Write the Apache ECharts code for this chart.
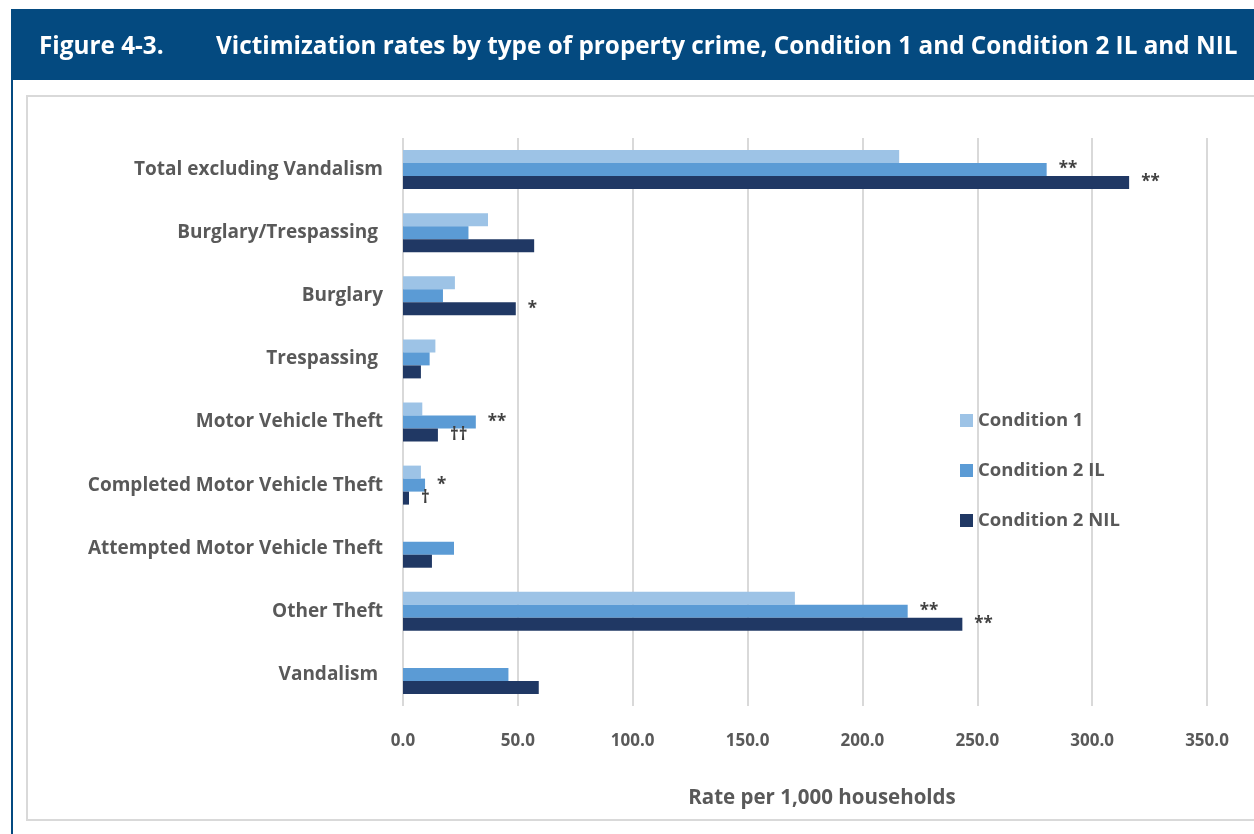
<!DOCTYPE html>
<html>
<head>
<meta charset="utf-8">
<script src="https://cdn.jsdelivr.net/npm/echarts@6/dist/echarts.min.js"></script>
<style>
  html, body { margin: 0; padding: 0; background: #fff; }
  #chart { width: 1254px; height: 834px; }
</style>
</head>
<body>
<div id="chart"></div>
<script>
  // categories, top to bottom
  var categories = [
    'Total excluding Vandalism',
    'Burglary/Trespassing ',
    'Burglary',
    'Trespassing ',
    'Motor Vehicle Theft',
    'Completed Motor Vehicle Theft',
    'Attempted Motor Vehicle Theft',
    'Other Theft',
    'Vandalism '
  ];
  var seriesNames = ['Condition 1', 'Condition 2 IL', 'Condition 2 NIL'];
  var cond1 = [216.0, 37.0, 22.6, 14.1, 8.4, 7.8, null, 170.6, null];
  var cond2IL = [280.2, 28.5, 17.4, 11.6, 31.7, 9.6, 22.2, 219.7, 45.9];
  var cond2NIL = [316.1, 57.1, 49.1, 7.8, 15.2, 2.6, 12.6, 243.5, 59.1];
  // significance marks beside bars
  var cond1Marks = ['', '', '', '', '', '', '', '', ''];
  var cond2ILMarks = ['**', '', '', '', '**', '*', '', '**', ''];
  var cond2NILMarks = ['**', '', '*', '', '††', '†', '', '**', ''];
  var xTicks = [0, 50, 100, 150, 200, 250, 300, 350];

  var colors = ['#9DC3E6', '#5B9BD5', '#203864'];
  var font = '"Open Sans", sans-serif';

  function makeSeries(i, data, marks) {
    return {
      name: seriesNames[i],
      type: 'bar',
      data: data,
      barWidth: 13,
      barGap: '0%',
      itemStyle: { color: colors[i] },
      label: {
        show: true,
        position: 'right',
        distance: 12,
        color: '#404040',
        fontFamily: font,
        fontWeight: 'bold',
        fontSize: 17,
        formatter: function (p) { return marks[p.dataIndex]; }
      }
    };
  }

  var chart = echarts.init(document.getElementById('chart'));
  var option = {
    animation: false,
    textStyle: { fontFamily: font },
    title: [{
      text: 'Figure 4-3.',
      left: 34, top: 30,
      textStyle: { color: '#fff', fontSize: 24.3, fontWeight: 'bold', fontFamily: font }
    }, {
      text: 'Victimization rates by type of property crime, Condition 1 and Condition 2 IL and NIL',
      left: 211, top: 30,
      textStyle: { color: '#fff', fontSize: 24.3, fontWeight: 'bold', fontFamily: font }
    }],
    graphic: [
      { type: 'rect', z: -10, shape: { x: 11, y: 9, width: 1243, height: 71 }, style: { fill: '#044A80' } },
      { type: 'rect', z: -10, shape: { x: 11, y: 80, width: 2, height: 754 }, style: { fill: '#044A80' } },
      { type: 'rect', z: -10, shape: { x: 27, y: 96, width: 1240, height: 724 },
        style: { fill: '#fff', stroke: '#D9D9D9', lineWidth: 2 } }
    ],
    legend: {
      orient: 'vertical',
      left: 955, top: 406,
      itemWidth: 13, itemHeight: 13, itemGap: 31,
      icon: 'rect',
      data: seriesNames,
      textStyle: { color: '#595959', fontSize: 18.5, fontFamily: font, fontWeight: 'bold' }
    },
    grid: { left: 403, right: 47, top: 138, bottom: 128 },
    xAxis: {
      type: 'value',
      min: xTicks[0], max: xTicks[xTicks.length - 1], interval: 50,
      axisLine: { show: false },
      axisTick: { show: false },
      splitLine: { lineStyle: { color: '#D9D9D9', width: 2 } },
      axisLabel: {
        color: '#595959', fontSize: 17, fontWeight: 'bold', fontFamily: font, margin: 27,
        formatter: function (v) { return v.toFixed(1); }
      },
      name: 'Rate per 1,000 households',
      nameLocation: 'middle',
      nameGap: 82,
      nameTextStyle: { color: '#595959', fontSize: 20.5, fontWeight: 'bold', fontFamily: font, padding: [0, 0, 0, 34] }
    },
    yAxis: {
      type: 'category',
      data: categories,
      inverse: true,
      axisLine: { show: false },
      axisTick: { show: false },
      axisLabel: { color: '#595959', fontSize: 19, fontWeight: 'bold', fontFamily: font, margin: 20 }
    },
    series: [
      makeSeries(0, cond1, cond1Marks),
      makeSeries(1, cond2IL, cond2ILMarks),
      makeSeries(2, cond2NIL, cond2NILMarks)
    ]
  };
  chart.setOption(option);
</script>
</body>
</html>
